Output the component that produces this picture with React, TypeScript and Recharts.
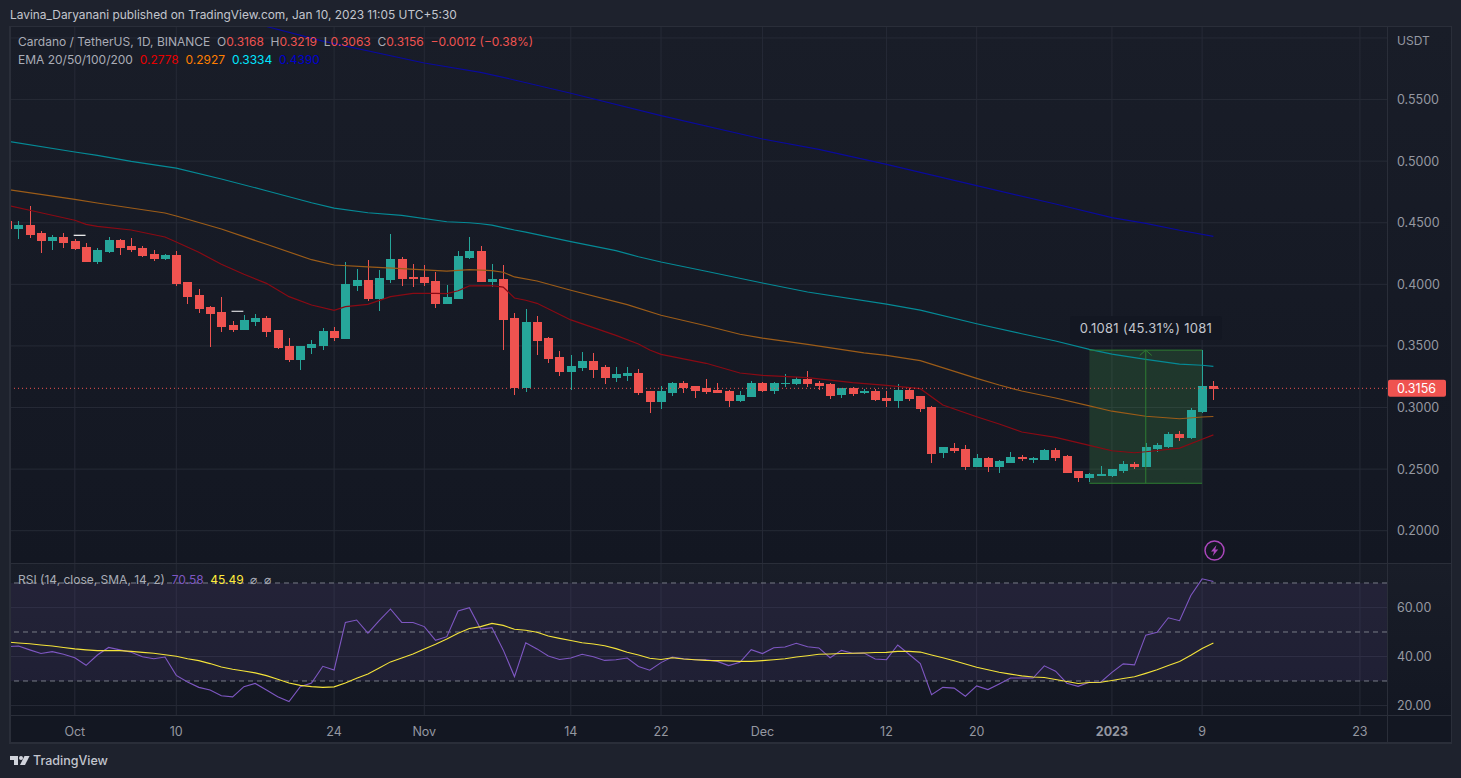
import React from 'react';
import { ComposedChart, Bar, Line, XAxis, YAxis, CartesianGrid, ReferenceLine, ReferenceArea } from 'recharts';

const opens = [
  .4514,.4457,.4481,.4416,.4359,.4384,.4351,.4302,.4189,.4270,
  .4359,.4311,.4294,.4246,.4213,.4238,.4018,.3913,.3815,.3775,
  .3669,.3637,.3702,.3726,.3629,.3499,.3393,.3491,.3507,.3621,
  .3564,.3994,.4035,.3881,.4043,.4205,.4059,.4059,.4019,.3848,
  .3889,.4214,.4270,.4019,.4043,.3726,.3166,.3694,.3564,.3402,
  .3296,.3321,.3377,.3321,.3247,.3256,.3280,.3126,.3045,.3118,
  .3191,.3167,.3151,.3142,.3126,.3061,.3086,.3191,.3142,.3191,
  .3191,.3224,.3199,.3183,.3102,.3151,.3118,.3126,.3077,.3061,
  .3142,.3086,.3004,.2631,.2671,.2663,.2525,.2590,.2525,.2557,
  .2598,.2581,.2581,.2654,.2606,.2484,.2435,.2452,.2452,.2492,
  .2541,.2525,.2671,.2687,.2784,.2760,.2971,.3168,
];
const highs = [
  .4514,.4514,.4635,.4432,.4400,.4416,.4367,.4335,.4294,.4384,
  .4367,.4376,.4311,.4278,.4246,.4270,.4018,.3962,.3824,.3897,
  .3702,.3750,.3759,.3742,.3629,.3564,.3499,.3547,.3645,.3653,
  .4181,.4124,.4197,.4116,.4408,.4222,.4165,.4157,.4100,.3994,
  .4270,.4384,.4311,.4165,.4157,.3767,.3800,.3743,.3572,.3459,
  .3426,.3450,.3442,.3345,.3329,.3329,.3312,.3134,.3175,.3207,
  .3215,.3175,.3232,.3199,.3142,.3134,.3215,.3207,.3207,.3272,
  .3248,.3296,.3215,.3199,.3151,.3167,.3151,.3151,.3134,.3191,
  .3159,.3086,.3012,.2680,.2711,.2695,.2622,.2598,.2573,.2638,
  .2614,.2598,.2663,.2671,.2614,.2484,.2468,.2525,.2500,.2565,
  .2557,.2711,.2711,.2801,.2809,.2995,.3466,.3219,
];
const lows = [
  .4457,.4367,.4376,.4254,.4278,.4294,.4278,.4181,.4165,.4254,
  .4238,.4262,.4221,.4189,.4197,.3986,.3840,.3767,.3491,.3612,
  .3612,.3637,.3661,.3572,.3474,.3369,.3304,.3434,.3466,.3540,
  .3564,.3946,.3864,.3783,.4011,.3986,.3978,.3986,.3808,.3848,
  .3889,.4205,.4019,.3978,.3467,.3101,.3126,.3426,.3361,.3256,
  .3142,.3296,.3239,.3191,.3207,.3215,.3101,.2956,.2988,.3094,
  .3118,.3077,.3110,.3118,.3004,.3045,.3086,.3126,.3110,.3167,
  .3183,.3167,.3142,.3069,.3077,.3094,.3110,.3053,.3004,.2996,
  .3053,.2964,.2550,.2590,.2630,.2492,.2525,.2476,.2468,.2557,
  .2565,.2549,.2581,.2565,.2468,.2395,.2395,.2443,.2435,.2468,
  .2500,.2525,.2638,.2671,.2728,.2744,.2955,.3063,
];
const closes = [
  .4457,.4481,.4408,.4359,.4384,.4343,.4294,.4189,.4278,.4359,
  .4302,.4286,.4238,.4213,.4238,.4010,.3905,.3807,.3767,.3661,
  .3637,.3710,.3726,.3621,.3491,.3393,.3499,.3515,.3621,.3572,
  .4002,.4035,.3881,.4051,.4205,.4051,.4051,.4011,.3848,.3897,
  .4222,.4270,.4019,.4043,.3718,.3166,.3694,.3548,.3394,.3296,
  .3329,.3377,.3312,.3247,.3264,.3280,.3118,.3045,.3126,.3191,
  .3159,.3142,.3134,.3118,.3061,.3094,.3191,.3142,.3191,.3199,
  .3224,.3191,.3175,.3094,.3151,.3110,.3126,.3069,.3061,.3142,
  .3077,.2996,.2623,.2672,.2654,.2525,.2590,.2525,.2565,.2598,
  .2590,.2590,.2654,.2598,.2476,.2435,.2460,.2460,.2500,.2541,
  .2525,.2679,.2695,.2784,.2760,.2979,.3174,.3156,
];

// [bar index, value]
const ema20: [number, number][] = [
  [0,.4641],[3,.4581],[6,.4520],[7,.4487],[8,.4471],[11,.4441],[14,.4384],[15,.4344],[17,.4260],[19,.4163],
  [21,.4082],[23,.4008],[25,.3900],[27,.3832],[29,.3789],[30,.3819],[32,.3838],[34,.3900],[36,.3927],[38,.3927],
  [39,.3924],[40,.3948],[41,.3987],[43,.3989],[44,.3978],[45,.3889],[46,.3871],[47,.3846],[50,.3711],[54,.3586],
  [56,.3516],[57,.3467],[58,.3432],[62,.3359],[65,.3280],[67,.3261],[71,.3242],[75,.3202],[78,.3180],[81,.3153],
  [83,.3020],[86,.2925],[88,.2866],[90,.2801],[93,.2758],[96,.2693],[98,.2649],[100,.2633],[101,.2641],[104,.2671],
  [106,.2742],[107,.2778],
];
const ema50: [number, number][] = [
  [0,.4771],[6,.4690],[8,.4660],[14,.4579],[15,.4555],[19,.4449],[23,.4325],[27,.4200],[29,.4157],[32,.4141],
  [35,.4127],[39,.4108],[41,.4119],[43,.4111],[44,.4098],[45,.4060],[47,.4027],[50,.3952],[55,.3835],[58,.3749],
  [62,.3664],[65,.3595],[67,.3564],[71,.3513],[76,.3443],[78,.3424],[81,.3380],[86,.3237],[88,.3183],[90,.3134],
  [93,.3077],[96,.3013],[98,.2970],[101,.2929],[104,.2909],[106,.2923],[107,.2927],
];
const ema100: [number, number][] = [
  [0,.5163],[6,.5074],[8,.5047],[11,.4998],[15,.4944],[19,.4855],[23,.4760],[27,.4662],[29,.4619],[32,.4581],
  [35,.4560],[39,.4508],[41,.4500],[42,.4492],[43,.4481],[45,.4441],[46,.4424],[50,.4346],[54,.4273],[56,.4224],
  [58,.4181],[62,.4106],[67,.4011],[71,.3938],[78,.3840],[81,.3791],[86,.3680],[90,.3599],[93,.3540],[96,.3472],
  [98,.3434],[101,.3391],[104,.3353],[106,.3343],[107,.3334],
];
const ema200: [number, number][] = [
  [23,.6093],[28,.5975],[37,.5797],[42,.5721],[45,.5659],[50,.5551],[58,.5369],[67,.5180],[72,.5095],[78,.4974],
  [86,.4801],[93,.4652],[98,.4541],[101,.4495],[104,.4439],[107,.4390],
];

const rsiValues = [
  44.0,44.3,42.7,41.2,42.0,40.9,39.5,36.4,40.6,43.7,
  42.7,41.7,39.9,39.1,39.8,32.3,29.6,27.4,26.3,24.0,
  23.5,27.7,29.0,26.3,23.6,21.6,27.7,29.2,36.0,34.5,
  53.9,54.9,49.5,54.6,59.4,53.9,53.9,52.2,46.6,48.1,
  58.6,59.9,51.2,51.8,42.7,31.8,45.6,43.1,40.2,38.8,
  39.4,40.9,39.9,38.4,38.7,39.4,35.9,34.4,37.5,39.8,
  39.1,38.7,38.6,38.0,36.3,37.6,42.8,41.2,43.6,43.9,
  45.4,44.0,43.5,39.5,42.5,41.3,41.4,39.0,38.7,44.7,
  40.9,37.1,24.4,27.4,27.1,23.8,28.0,26.5,28.8,31.2,
  31.2,31.2,36.2,34.0,29.1,27.8,29.5,29.5,33.5,37.0,
  36.6,48.7,49.9,55.8,54.6,64.9,71.7,70.58,
];
const rsiSma = [
  45.9,45.5,45.2,44.7,44.3,43.7,43.1,42.7,42.4,42.4,
  42.4,42.1,41.7,41.3,40.7,40.1,39.1,38.3,37.1,35.7,
  34.8,34.1,33.3,32.2,30.7,29.2,28.2,27.7,27.4,27.6,
  29.2,31.1,32.9,35.3,37.8,39.4,41.0,43.1,45.0,47.1,
  49.5,51.4,52.2,53.5,52.7,51.1,50.7,49.9,48.4,47.4,
  46.5,45.6,45.1,44.4,43.2,41.7,40.6,39.3,38.8,39.5,
  39.0,38.7,38.4,38.3,38.2,38.0,38.0,38.3,38.7,39.1,
  39.8,40.3,40.9,41.0,41.2,41.3,41.4,41.6,41.7,42.1,
  42.1,41.8,40.6,39.5,38.3,36.9,35.6,34.6,33.6,32.8,
  32.1,31.6,31.4,30.6,29.8,29.0,29.4,29.5,30.2,31.0,
  31.7,33.1,34.6,36.3,38.0,40.5,43.3,45.49,
];

const timeTicks = [6, 15, 29, 37, 50, 58, 67, 78, 86, 98, 106, 120];
const timeLabels = ['Oct', '10', '24', 'Nov', '14', '22', 'Dec', '12', '20', '2023', '9', '23'];
const priceTicks = [0.2, 0.25, 0.3, 0.35, 0.4, 0.45, 0.5, 0.55, 0.6];
const rsiTicks = [20, 40, 60];
const lastPrice = 0.3156;
const measureLow = 0.2385;
const measureHigh = 0.3466;
const measureFrom = 96;
const measureTo = 106;
const measureMid = 101;

const GREEN = '#26a69a';
const RED = '#ef5350';
const GRID = '#262a36';
const FONT = 'Inter, "Noto Sans", sans-serif';
const TEXT = '#a9acb6';
const DIM = '#9598a1';

const rows = opens.map((o, i) => ({ i, o, c: closes[i], h: highs[i], l: lows[i], range: [lows[i], highs[i]] })) as any[];
const put = (key: string, pts: [number, number][]) => pts.forEach(([i, v]) => { rows[i][key] = v; });
put('ema20', ema20);
put('ema50', ema50);
put('ema100', ema100);
put('ema200', ema200);
const rsiRows = rsiValues.map((v, i) => ({ i, rsi: v, sma: rsiSma[i] }));

const xDomain: [number, number] = [0.25, 122.4];

function Candle(props: any) {
  const { x, y, width, height, payload } = props;
  const { o, c, h, l } = payload;
  const span = h - l || 1;
  const at = (p: number) => y + ((h - p) / span) * height;
  const cx = Math.round(x + width / 2);
  const top = Math.floor(at(Math.max(o, c)));
  const bot = Math.max(top + 1, Math.ceil(at(Math.min(o, c))));
  const col = c >= o ? GREEN : RED;
  return (
    <g shapeRendering="crispEdges">
      <rect x={cx} y={Math.round(y)} width={1} height={Math.max(1, Math.round(height))} fill={col} />
      <rect x={cx - 4} y={top} width={9} height={bot - top} fill={col} />
    </g>
  );
}

function LastTag(props: any) {
  const vb = props.viewBox;
  const x = vb.x + vb.width + 1;
  const y = vb.y;
  return (
    <g>
      <rect x={x} y={y - 8.5} width={58} height={17} rx={2} fill={RED} />
      <text x={x + 9} y={y + 4.5} fill="#fff" fontSize={12.5} fontFamily={FONT}>{lastPrice.toFixed(4)}</text>
    </g>
  );
}

function TimeTick(props: any) {
  const { x, y, payload } = props;
  const label = timeLabels[timeTicks.indexOf(payload.value)];
  return (
    <text x={x} y={y + 19} textAnchor="middle" fill={DIM} fontSize={12.5} fontWeight={label === '2023' ? 700 : 400} fontFamily={FONT}>
      {label}
    </text>
  );
}

const Txt = ({ x, y, color, size = 12.5, children, weight }: any) => (
  <div style={{ position: 'absolute', left: x, top: y, color, fontSize: size, fontFamily: FONT, fontWeight: weight ?? 400, lineHeight: '16px', whiteSpace: 'pre' }}>{children}</div>
);
const Box = ({ l, t, w, h, bg }: any) => (
  <div style={{ position: 'absolute', left: l, top: t, width: w, height: h, background: bg }} />
);

export default function App() {
  return (
    <div style={{ position: 'absolute', left: 0, top: 0, width: 1461, height: 778, background: '#1e222d', overflow: 'hidden' }}>
      <Box l={10} t={27} w={1441} h={536} bg="linear-gradient(#191d28,#131722)" />
      <Box l={10} t={563} w={1441} h={152} bg="linear-gradient(#191d28,#131722)" />
      <Box l={10} t={715} w={1441} h={27} bg="#131722" />

      <div style={{ position: 'absolute', left: 0, top: 0 }}>
        <ComposedChart width={1461} height={563} data={rows} margin={{ top: 27, right: 10, bottom: 0, left: 10 }}>
          <XAxis dataKey="i" type="number" domain={xDomain} allowDataOverflow hide ticks={timeTicks} />
          <YAxis
            orientation="right"
            width={64}
            type="number"
            domain={[0.17378, 0.6089]}
            allowDataOverflow
            ticks={priceTicks}
            interval={0}
            tickLine={false}
            axisLine={false}
            tickSize={0}
            tickMargin={10}
            tickFormatter={(v: number) => (v > 0.58 ? '' : v.toFixed(4))}
            tick={{ fill: DIM, fontSize: 12.5, fontFamily: FONT }}
          />
          <CartesianGrid stroke={GRID} verticalValues={timeTicks} horizontalValues={priceTicks} />
          <Bar dataKey="range" barSize={9} shape={<Candle />} isAnimationActive={false} />
          <Line dataKey="ema200" stroke="#0a0a9c" strokeWidth={1.2} dot={false} connectNulls isAnimationActive={false} />
          <Line dataKey="ema100" stroke="#058a96" strokeWidth={1.2} dot={false} connectNulls isAnimationActive={false} />
          <Line dataKey="ema50" stroke="#9c5c18" strokeWidth={1.2} dot={false} connectNulls isAnimationActive={false} />
          <Line dataKey="ema20" stroke="#8a0a14" strokeWidth={1.2} dot={false} connectNulls isAnimationActive={false} />
          <ReferenceLine y={lastPrice} stroke={RED} strokeDasharray="1 3" label={<LastTag />} />
          <ReferenceArea x1={measureFrom} x2={measureTo} y1={measureLow} y2={measureHigh} fill="#4caf50" fillOpacity={0.2} stroke="none" />
          <ReferenceLine segment={[{ x: measureFrom, y: measureHigh }, { x: measureTo, y: measureHigh }]} stroke="#2e7d32" />
          <ReferenceLine segment={[{ x: measureFrom, y: measureLow }, { x: measureTo, y: measureLow }]} stroke="#2e7d32" />
          <ReferenceLine segment={[{ x: measureMid, y: measureLow }, { x: measureMid, y: measureHigh }]} stroke="#2e7d32" />
          <ReferenceLine segment={[{ x: measureMid - 0.53, y: measureHigh - 0.0043 }, { x: measureMid, y: measureHigh }]} stroke="#2e7d32" />
          <ReferenceLine segment={[{ x: measureMid + 0.53, y: measureHigh - 0.0043 }, { x: measureMid, y: measureHigh }]} stroke="#2e7d32" />
          <ReferenceLine segment={[{ x: 5.9, y: 0.4398 }, { x: 6.95, y: 0.4398 }]} stroke="#ffffff" strokeWidth={1.2} />
          <ReferenceLine segment={[{ x: 19.9, y: 0.3781 }, { x: 20.95, y: 0.3781 }]} stroke="#d8d8dc" strokeWidth={1.2} />
        </ComposedChart>
      </div>

      <div style={{ position: 'absolute', left: 0, top: 563 }}>
        <ComposedChart width={1461} height={179} data={rsiRows} margin={{ top: 0, right: 10, bottom: 0, left: 10 }}>
          <XAxis
            dataKey="i"
            type="number"
            domain={xDomain}
            allowDataOverflow
            ticks={timeTicks}
            interval={0}
            height={27}
            tickLine={false}
            axisLine={false}
            tickSize={0}
            tick={<TimeTick />}
          />
          <YAxis
            orientation="right"
            width={64}
            type="number"
            domain={[16.12, 78.16]}
            allowDataOverflow
            ticks={rsiTicks}
            interval={0}
            tickLine={false}
            axisLine={false}
            tickSize={0}
            tickMargin={10}
            tickFormatter={(v: number) => v.toFixed(2)}
            tick={{ fill: DIM, fontSize: 12.5, fontFamily: FONT }}
          />
          <CartesianGrid stroke={GRID} verticalValues={timeTicks} horizontalValues={rsiTicks} />
          <ReferenceArea y1={30} y2={70} fill="#7e57c2" fillOpacity={0.11} stroke="none" />
          <ReferenceLine y={70} stroke="#787b86" strokeDasharray="5 4" />
          <ReferenceLine y={50} stroke="#787b86" strokeDasharray="5 4" />
          <ReferenceLine y={30} stroke="#787b86" strokeDasharray="5 4" />
          <Line dataKey="rsi" stroke="#7e57c2" strokeWidth={1.1} dot={false} isAnimationActive={false} />
          <Line dataKey="sma" stroke="#f4e33a" strokeWidth={1.1} dot={false} isAnimationActive={false} />
        </ComposedChart>
      </div>

      {/* frame */}
      <Box l={9} t={26} w={1443} h={1} bg="#2a2e39" />
      <Box l={9} t={26} w={2} h={717} bg="#2a2e39" />
      <Box l={1451} t={26} w={1} h={717} bg="#2a2e39" />
      <Box l={9} t={742} w={1443} h={2} bg="#2a2e39" />
      <Box l={1387} t={26} w={1} h={717} bg="#2a2e39" />
      <Box l={9} t={563} w={1443} h={1} bg="#2a2e39" />
      <Box l={9} t={715} w={1443} h={1} bg="#2a2e39" />

      {/* texts */}
      <Txt x={10} y={7} color="#c3c6ce" size={11.9}>Lavina_Daryanani published on TradingView.com, Jan 10, 2023 11:05 UTC+5:30</Txt>
      <Txt x={1397} y={33} color={DIM} size={12}>USDT</Txt>
      <div style={{ position: 'absolute', left: 18, top: 34, fontFamily: FONT, fontSize: 12, lineHeight: '16px', color: TEXT, whiteSpace: 'pre' }}>
        {'Cardano / TetherUS, 1D, BINANCE  O'}<span style={{ color: RED }}>0.3168</span>{'  H'}<span style={{ color: RED }}>0.3219</span>{'  L'}<span style={{ color: RED }}>0.3063</span>{'  C'}<span style={{ color: RED }}>0.3156</span>{'  '}<span style={{ color: RED }}>{'\u22120.0012 (\u22120.38%)'}</span>
      </div>
      <div style={{ position: 'absolute', left: 18, top: 52, fontFamily: FONT, fontSize: 12, lineHeight: '16px', color: TEXT, whiteSpace: 'pre' }}>
        {'EMA 20/50/100/200  '}<span style={{ color: '#e60000' }}>0.2778</span>{'  '}<span style={{ color: '#ff7f00' }}>0.2927</span>{'  '}<span style={{ color: '#00e5ff' }}>0.3334</span>{'  '}<span style={{ color: '#0000cc' }}>0.4390</span>
      </div>
      <div style={{ position: 'absolute', left: 18, top: 572, fontFamily: FONT, fontSize: 12, lineHeight: '16px', color: TEXT, whiteSpace: 'pre' }}>
        {'RSI (14, close, SMA, 14, 2)  '}<span style={{ color: '#7e57c2' }}>70.58</span>{'  '}<span style={{ color: '#ffeb3b' }}>45.49</span>{'  \u2300  \u2300'}
      </div>

      {/* measure label */}
      <div style={{ position: 'absolute', left: 1070, top: 316, width: 152, height: 24, borderRadius: 3, background: '#131722', color: '#c3c6ce', fontFamily: FONT, fontSize: 13, letterSpacing: 0.3, lineHeight: '24px', textAlign: 'center' }}>
        0.1081 (45.31%) 1081
      </div>

      {/* lightning badge */}
      <svg style={{ position: 'absolute', left: 1203, top: 539 }} width={23} height={23}>
        <circle cx={11.5} cy={11.5} r={9.5} fill="none" stroke="#ab47bc" strokeWidth={1.5} />
        <path d="M13.5 6 L8 12.6 H11 L9.8 17 L15.2 10.4 H12.2 Z" fill="#ab47bc" />
      </svg>

      {/* logo */}
      <svg style={{ position: 'absolute', left: 10, top: 756 }} width={20} height={10}>
        <path d="M0 0 H8 V9 H4 V4 H0 Z" fill="#d1d4dc" />
        <circle cx={11} cy={2} r={2} fill="#d1d4dc" />
        <path d="M14.5 0 H19.6 L15 9 H10 Z" fill="#d1d4dc" />
      </svg>
      <Txt x={33} y={753} color="#c3c6ce" size={12.5} weight={500}>TradingView</Txt>
    </div>
  );
}
